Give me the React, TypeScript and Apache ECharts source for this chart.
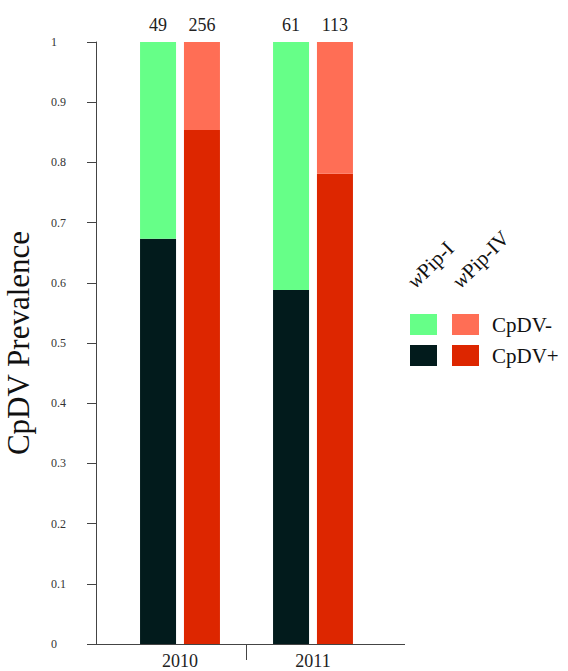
import React, { useEffect, useRef } from "react";
import * as echarts from "echarts";

const years = ["2010", "2011"];
const pipIPositive = [0.673, 0.588];
const pipINegative = [0.327, 0.412];
const pipIVPositive = [0.854, 0.781];
const pipIVNegative = [0.146, 0.219];
const pipICounts = [49, 61];
const pipIVCounts = [256, 113];
const yTicks = [0, 0.1, 0.2, 0.3, 0.4, 0.5, 0.6, 0.7, 0.8, 0.9, 1];

const FONT = "'Liberation Serif', 'DejaVu Serif', serif";
const C_DARK = "#021B1C";
const C_GREEN = "#66FF88";
const C_RED = "#DD2600";
const C_SALMON = "#FF6E55";

export default function App() {
  const ref = useRef<HTMLDivElement>(null);
  useEffect(() => {
    if (!ref.current) return;
    const chart = echarts.init(ref.current, undefined, { renderer: "svg" });
    const labelStyle = (counts: number[]) => ({
      show: true,
      position: "top",
      distance: 8,
      fontFamily: FONT,
      fontSize: 18,
      color: "#222",
      formatter: (p: any) => String(counts[p.dataIndex]),
    });
    chart.setOption({
      animation: false,
      textStyle: { fontFamily: FONT },
      grid: {
        left: 113.5,
        right: 188.5,
        top: 42,
        bottom: 27,
        containLabel: false,
        outerBoundsMode: "none",
      },
      xAxis: {
        type: "category",
        data: years,
        axisLine: { show: false },
        axisTick: { show: false },
        axisLabel: { fontFamily: FONT, fontSize: 18, lineHeight: 18, color: "#222", margin: 8 },
      },
      yAxis: {
        type: "value",
        min: yTicks[0],
        max: yTicks[yTicks.length - 1],
        interval: 0.1,
        offset: 17.5,
        name: "CpDV Prevalence",
        nameLocation: "middle",
        nameGap: 62,
        nameTextStyle: { fontFamily: FONT, fontSize: 31, color: "#111" },
        axisLine: { show: true, lineStyle: { color: "#444", width: 1 } },
        axisTick: { show: true, length: 9, lineStyle: { color: "#444" } },
        splitLine: { show: false },
        axisLabel: {
          fontFamily: FONT,
          fontSize: 12,
          color: "#333",
          align: "left",
          margin: 45,
          formatter: (v: number) => String(Math.round(v * 10) / 10),
        },
      },
      series: [
        {
          type: "bar",
          stack: "I",
          data: pipIPositive,
          barWidth: 36,
          barGap: "22%",
          itemStyle: { color: C_DARK },
        },
        {
          type: "bar",
          stack: "I",
          data: pipINegative,
          barWidth: 36,
          barGap: "22%",
          itemStyle: { color: C_GREEN },
          label: labelStyle(pipICounts),
        },
        {
          type: "bar",
          stack: "IV",
          data: pipIVPositive,
          barWidth: 36,
          barGap: "22%",
          itemStyle: { color: C_RED },
        },
        {
          type: "bar",
          stack: "IV",
          data: pipIVNegative,
          barWidth: 36,
          barGap: "22%",
          itemStyle: { color: C_SALMON },
          label: labelStyle(pipIVCounts),
        },
      ],
      graphic: [
        {
          type: "line",
          shape: { x1: 96, y1: 644.5, x2: 405, y2: 644.5 },
          style: { stroke: "#444", lineWidth: 1 },
        },
        {
          type: "line",
          shape: { x1: 246.5, y1: 644, x2: 246.5, y2: 660 },
          style: { stroke: "#444", lineWidth: 1 },
        },
        { type: "rect", shape: { x: 410, y: 314, width: 27, height: 21 }, style: { fill: C_GREEN } },
        { type: "rect", shape: { x: 452, y: 314, width: 27, height: 21 }, style: { fill: C_SALMON } },
        { type: "rect", shape: { x: 410, y: 345, width: 27, height: 21 }, style: { fill: C_DARK } },
        { type: "rect", shape: { x: 452, y: 345, width: 27, height: 21 }, style: { fill: C_RED } },
        {
          type: "text",
          x: 492,
          y: 325,
          style: { text: "CpDV-", fontFamily: FONT, fontSize: 21, fill: "#111", textVerticalAlign: "middle" },
        },
        {
          type: "text",
          x: 492,
          y: 356,
          style: { text: "CpDV+", fontFamily: FONT, fontSize: 21, fill: "#111", textVerticalAlign: "middle" },
        },
        {
          type: "text",
          x: 418,
          y: 292,
          rotation: Math.PI / 4,
          style: {
            text: "{i|w}Pip-I",
            fontFamily: FONT,
            fontSize: 21,
            fill: "#111",
            textVerticalAlign: "bottom",
            rich: { i: { fontStyle: "italic", fontFamily: FONT, fontSize: 21, fill: "#111" } },
          },
        },
        {
          type: "text",
          x: 463,
          y: 292,
          rotation: Math.PI / 4,
          style: {
            text: "{i|w}Pip-IV",
            fontFamily: FONT,
            fontSize: 21,
            fill: "#111",
            textVerticalAlign: "bottom",
            rich: { i: { fontStyle: "italic", fontFamily: FONT, fontSize: 21, fill: "#111" } },
          },
        },
      ],
    });
    return () => chart.dispose();
  }, []);
  return (
    <div
      ref={ref}
      style={{ position: "absolute", left: 0, top: 0, width: 568, height: 671 }}
    />
  );
}
